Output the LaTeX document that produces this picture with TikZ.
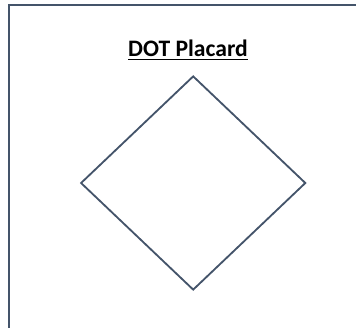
\documentclass[tikz,border=0pt]{standalone}
\usepackage{fontspec}
\setmainfont{Carlito}
\usepackage{tikz}
\usetikzlibrary{shapes.geometric, positioning}

\definecolor{framecol}{HTML}{44546A}

\begin{document}
\begin{tikzpicture}[
		frame/.style={draw=framecol, line width=1.4pt},
		placard/.style={diamond, draw=framecol, line width=1.3pt, minimum width=5.625cm, minimum height=5.35cm, inner sep=0pt}
	]
	\useasboundingbox (0,0) rectangle (8.9,-8.175);
	\clip (0,0) rectangle (8.9,-8.175);
	% Rahmen (rechts und unten abgeschnitten)
	\draw[frame] (0.225,-0.125) rectangle (10,-10);
	% Titel
	\node[anchor=base, font=\fontsize{16.8}{19}\selectfont\bfseries] (title) at (4.7,-1.425) {\underline{DOT Placard}};
	% Raute
	\node[placard] (sign) at (4.83,-4.575) {};
\end{tikzpicture}
\end{document}
